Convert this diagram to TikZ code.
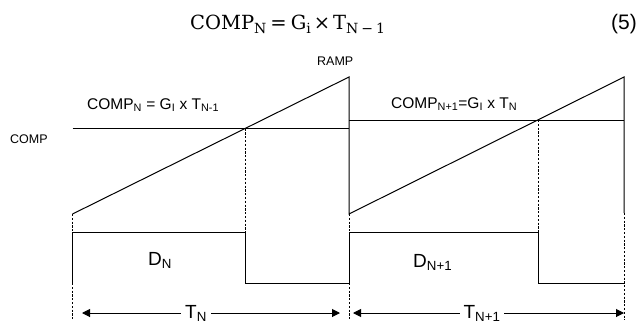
\documentclass[tikz,border=0pt]{standalone}
\usepackage{fontspec}
\newfontfamily\arial{Liberation Sans}
\newfontfamily\eqfont{DejaVu Serif}
\newcommand\eqsub[1]{\raisebox{-0.42ex}{\fontsize{14}{16}\selectfont #1}}
\usetikzlibrary{arrows.meta}
\begin{document}
\begin{tikzpicture}[x=1pt,y=-1pt,
  wave/.style={line width=1pt,line join=miter},
  guide/.style={line width=0.8pt,dash pattern=on 2.2pt off 1.6pt},
  span/.style={line width=1pt,{Triangle[length=8pt,width=8pt]}-{Triangle[length=8pt,width=8pt]}},
  lbl/.style={font=\arial\fontsize{15.5}{18}\selectfont,inner sep=0pt,anchor=base west},
  small/.style={font=\arial\fontsize{12.5}{15}\selectfont,inner sep=0pt,anchor=base west},
  big/.style={font=\arial\fontsize{19}{22}\selectfont,inner sep=0pt,anchor=base west},
  per/.style={font=\arial\fontsize{19}{22}\selectfont,fill=white,inner xsep=4pt,inner ysep=0pt,anchor=base}]
\useasboundingbox (0,0) rectangle (639,324);
% key coordinates
\coordinate (rs1) at (72.5,214);
\coordinate (pk1) at (349,77);
\coordinate (rs2) at (349,214);
\coordinate (pk2) at (624,77);
\coordinate (re2) at (624,213);
\coordinate (c1a) at (72.5,128.5);
\coordinate (x1) at (245,128.5);
\coordinate (c1b) at (349,128.5);
\coordinate (c2a) at (349,120);
\coordinate (x2) at (538,120);
\coordinate (c2b) at (624,120);
% equation
\node[inner sep=0pt,anchor=base west,font=\eqfont\fontsize{19.5}{22}\selectfont] (eq) at (190,29) {COMP\eqsub{N}\hspace{4pt}=\hspace{4pt}G\eqsub{i}\hspace{3pt}×\hspace{3pt}T\eqsub{N\hspace{3pt}−\hspace{3pt}1}};
\node[font=\arial\fontsize{21}{24}\selectfont,inner sep=0pt,anchor=base east] (num) at (637,29) {(5)};
% ramps
\draw[wave] (rs1) -- (pk1) -- (rs2) -- (pk2) -- (re2);
% comp levels
\draw[wave] (c1a) -- (c1b);
\draw[wave] (c2a) -- (c2b);
% pulses
\draw[wave] (72.5,283) -- (72.5,232) -- (245,232) -- (245,283) -- (349,283) -- (349,232) -- (538,232) -- (538,283) -- (624,283);
% guides
\draw[guide] (rs1) -- (72.5,232);
\draw[guide] (72.5,283) -- (72.5,320);
\draw[guide] (x1) -- (245,232);
\draw[guide] (rs2) -- (349,232);
\draw[guide] (349,283) -- (349,320);
\draw[guide] (x2) -- (538,232);
\draw[guide] (re2) -- (624,320);
% period arrows
\coordinate (a1) at (82,313);
\coordinate (b1) at (340,313);
\coordinate (a2) at (353,313);
\coordinate (b2) at (624,313);
\draw[span] (a1) -- (b1);
\draw[span] (a2) -- (b2);
\node[per] (tn) at (196,318) {T\textsubscript{N}};
\node[per] (tn1) at (482,318) {T\textsubscript{N+1}};
% labels
\node[lbl] (l1) at (87,109) {COMP\textsubscript{N} = G\textsubscript{I} x T\textsubscript{N-1}};
\node[lbl] (l2) at (391,108) {COMP\textsubscript{N+1}=G\textsubscript{I} x T\textsubscript{N}};
\node[small] (comp) at (10,143) {COMP};
\node[small] (ramp) at (317,65) {RAMP};
\node[big] (dn) at (148,265) {D\textsubscript{N}};
\node[big] (dn1) at (413,267) {D\textsubscript{N+1}};
\end{tikzpicture}
\end{document}
